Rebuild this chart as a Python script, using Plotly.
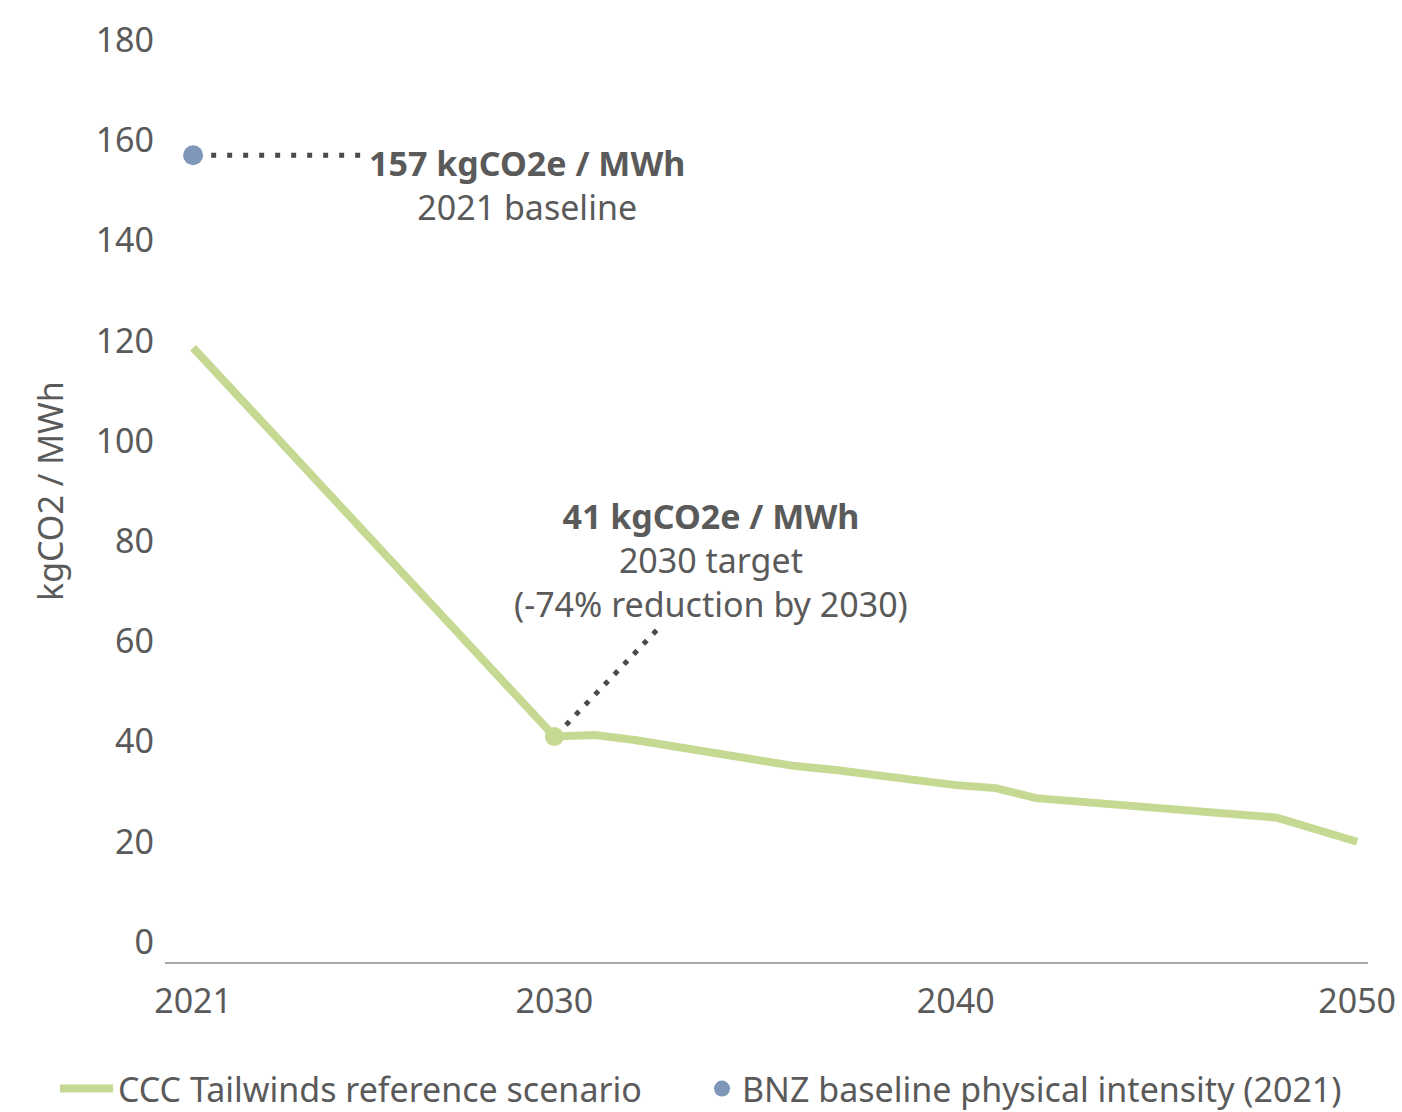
import plotly.graph_objects as go

# Emissions intensity pathway (kgCO2 / MWh)
scenario_years = [2021, 2030, 2031, 2032, 2036, 2037, 2040, 2041, 2042, 2048, 2050]
scenario_values = [118.6, 41.0, 41.3, 40.3, 35.1, 34.3, 31.3, 30.7, 28.7, 24.8, 20.0]

baseline_year = [2021]
baseline_value = [157]

target_year = [2030]
target_value = [41]

x_ticks = [2021, 2030, 2040, 2050]
y_ticks = [0, 20, 40, 60, 80, 100, 120, 140, 160, 180]

GREEN = "#c5d993"
BLUE = "#7f98b9"
TEXT = "#5a5a5a"
DARK = "#4a4a4a"
FONT = "Noto Sans"

W, H = 1402, 1112

fig = go.Figure()

fig.add_trace(go.Scatter(
    x=scenario_years, y=scenario_values, mode="lines",
    name="CCC Tailwinds reference scenario",
    line=dict(color=GREEN, width=8),
    hoverinfo="skip", legend="legend",
))
fig.add_trace(go.Scatter(
    x=target_year, y=target_value, mode="markers",
    marker=dict(color=GREEN, size=19),
    showlegend=False, cliponaxis=False,
))
fig.add_trace(go.Scatter(
    x=baseline_year, y=baseline_value, mode="markers",
    name="BNZ baseline physical intensity (2021)",
    marker=dict(color=BLUE, size=20),
    cliponaxis=False, legend="legend2",
))

# Dotted leader lines from the markers to their labels
fig.add_shape(type="line", xref="x", yref="y",
              x0=2021.45, y0=157, x1=2025.2, y1=157,
              line=dict(color=DARK, width=5, dash="5px,11px"))
fig.add_shape(type="line", xref="x", yref="y",
              x0=2030.29, y0=43.3, x1=2032.63, y1=62.9,
              line=dict(color=DARK, width=5, dash="5px,9px"))

fig.add_annotation(
    x=2029.32, y=151.0, xref="x", yref="y", showarrow=False,
    xanchor="center", yanchor="middle", align="center",
    text="<b>157 kgCO2e / MWh</b><br>2021 baseline",
    font=dict(family=FONT, size=34, color=TEXT),
)
fig.add_annotation(
    x=2033.9, y=76.3, xref="x", yref="y", showarrow=False,
    xanchor="center", yanchor="middle", align="center",
    text="<b>41 kgCO2e / MWh</b><br>2030 target<br>(-74% reduction by 2030)",
    font=dict(family=FONT, size=34, color=TEXT),
)

# Rotated y-axis title
fig.add_annotation(
    x=(50 - 165) / 1203, y=(962 - 491) / 922, xref="paper", yref="paper",
    showarrow=False, textangle=-90, xanchor="center", yanchor="middle",
    text="kgCO2 / MWh", font=dict(family=FONT, size=34, color=TEXT),
)

legend_common = dict(
    orientation="h", xref="container", yref="container",
    xanchor="left", y=1 - 1060 / H, yanchor="top",
    font=dict(family=FONT, size=34, color=TEXT),
    bgcolor="rgba(0,0,0,0)",
)

fig.update_layout(
    width=W, height=H,
    margin=dict(l=165, r=34, t=40, b=150),
    paper_bgcolor="white", plot_bgcolor="white",
    font=dict(family=FONT, size=34, color=TEXT),
    showlegend=True,
    legend=dict(x=55 / W, itemwidth=53, **legend_common),
    legend2=dict(x=702 / W, **legend_common),
    xaxis=dict(
        range=[2020.30, 2050.27], tickvals=x_ticks,
        ticktext=[str(v) for v in x_ticks],
        showgrid=False, zeroline=False, automargin=False,
        showline=True, linecolor="#a8a8a8", linewidth=2,
        ticks="", ticklabelstandoff=8,
        tickfont=dict(family=FONT, size=34, color=TEXT),
    ),
    yaxis=dict(
        range=[-4, 180], tickvals=y_ticks,
        showgrid=False, zeroline=False, showline=False, automargin=False,
        ticks="", ticklabelstandoff=10,
        tickfont=dict(family=FONT, size=34, color=TEXT),
    ),
)

fig.write_html("out.html")
